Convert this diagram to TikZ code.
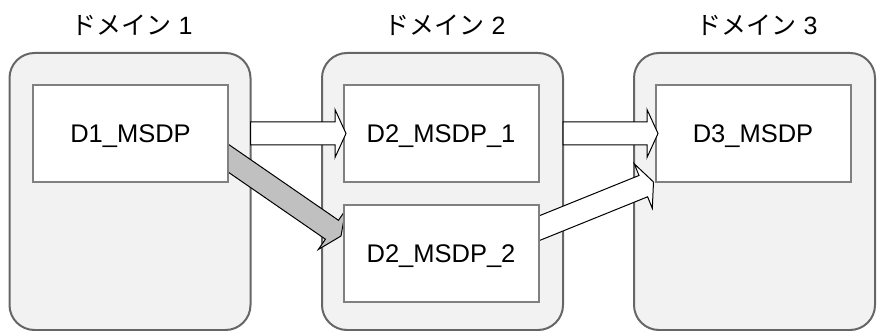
\documentclass[tikz,border=0pt]{standalone}
\usepackage{fontspec}
\setmainfont{Liberation Sans}
\newfontfamily\jpfont{Noto Sans CJK JP}
\usetikzlibrary{calc}
\definecolor{contfill}{HTML}{F2F2F2}
\definecolor{contdraw}{HTML}{666666}
\definecolor{boxdraw}{HTML}{808080}
\definecolor{arrgray}{HTML}{C0C0C0}
% #1 fill, #2 extension of the tail back past the start, #3 start, #4 tip
\newcommand\blockarrow[4][white]{%
  \coordinate (hb) at ($(#4)!11pt!(#3)$);
  \coordinate (tl) at ($(#3)!-#2!(#4)$);
  \draw[blockarr, fill=#1] ($(tl)!11.5pt!90:(#4)$) -- ($(hb)!11.5pt!90:(#4)$) -- ($(hb)!24pt!90:(#4)$) -- (#4) -- ($(hb)!24pt!-90:(#4)$) -- ($(hb)!11.5pt!-90:(#4)$) -- ($(tl)!11.5pt!-90:(#4)$) -- cycle;}
\begin{document}
\begin{tikzpicture}[x=1pt,y=-1pt,
  cont/.style={draw=contdraw, fill=contfill, line width=2pt, rounded corners=25pt, minimum width=241pt, minimum height=277pt, inner sep=0pt, outer sep=0pt},
  box/.style={draw=boxdraw, fill=white, line width=2pt, minimum width=195pt, minimum height=97pt, inner sep=0pt, outer sep=0pt, font=\fontsize{25.5pt}{30pt}\selectfont, text height=18.3pt, text depth=0pt},
  title/.style={font=\fontsize{25pt}{30pt}\selectfont, anchor=base, inner sep=0pt},
  blockarr/.style={draw=black, line width=1pt, line join=miter}]
\useasboundingbox (0,0) rectangle (880,331);
% titles
\node[title] (t1) at (132,35) {{\jpfont ドメイン} 1};
\node[title] (t2) at (445,35) {{\jpfont ドメイン} 2};
\node[title] (t3) at (757,35) {{\jpfont ドメイン} 3};
% containers
\node[cont] (c1) at (130,191.5) {};
\node[cont] (c2) at (442.5,191.5) {};
\node[cont] (c3) at (754.5,191.5) {};
% box positions (placed first as coordinates so that two arrows can go under the boxes)
\coordinate (p1) at (130.5,133.5);
\coordinate (p21) at (441,133.5);
\coordinate (p22) at (441,253);
\coordinate (p3) at (753,133.5);
% arrows that start inside a box: drawn under the boxes
\coordinate (a3s) at ($(p22)+(97.5,-24.5)$);
\coordinate (a3e) at ($(p3)+(-99.5,48.5)$);
\coordinate (a4s) at ($(p1)+(97.5,24.5)$);
\coordinate (a4e) at ($(p22)+(-100,-17)$);
\blockarrow{20pt}{a3s}{a3e}
\blockarrow[arrgray]{20pt}{a4s}{a4e}
% inner boxes
\node[box] (b1) at (p1) {D1\_MSDP};
\node[box] (b21) at (p21) {D2\_MSDP\_1};
\node[box] (b22) at (p22) {D2\_MSDP\_2};
\node[box] (b3) at (p3) {D3\_MSDP};
% arrows from container edges
\coordinate (a1s) at (c1.east |- b1.east);
\coordinate (a1e) at ($(b21.west)+(2.5,0)$);
\coordinate (a2s) at (c2.east |- b21.east);
\coordinate (a2e) at ($(b3.west)+(2.5,0)$);
\blockarrow{0pt}{a1s}{a1e}
\blockarrow{0pt}{a2s}{a2e}
\end{tikzpicture}
\end{document}
